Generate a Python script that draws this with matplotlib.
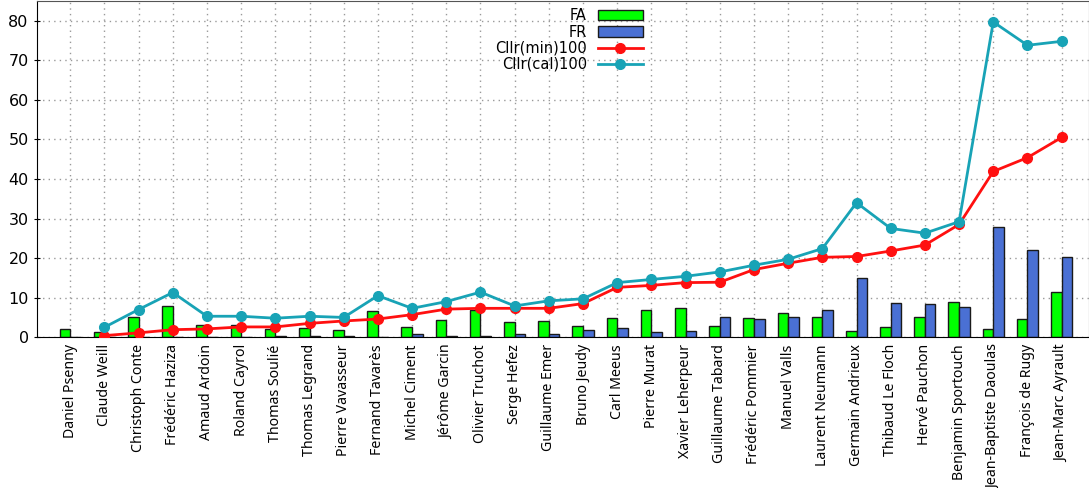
import numpy as np
import matplotlib.pyplot as plt

noms = ['Daniel Psenny', 'Claude Weill', 'Christoph Conte', 'Frédéric Haziza',
        'Amaud Ardoin', 'Roland Cayrol', 'Thomas Soulié', 'Thomas Legrand',
        'Pierre Vavasseur', 'Fernand Tavarès', 'Michel Ciment', 'Jérôme Garcin',
        'Olivier Truchot', 'Serge Hefez', 'Guillaume Emer', 'Bruno Jeudy',
        'Carl Meeus', 'Pierre Murat', 'Xavier Leherpeur', 'Guillaume Tabard',
        'Frédéric Pommier', 'Manuel Valls', 'Laurent Neumann', 'Germain Andrieux',
        'Thibaud Le Floch', 'Hervé Pauchon', 'Benjamin Sportouch',
        'Jean-Baptiste Daoulas', 'François de Rugy', 'Jean-Marc Ayrault']

fa = [2.1, 1.4, 5.1, 7.8, 3.1, 3.2, 2.1, 2.4, 1.9, 6.5,
      2.6, 4.4, 6.9, 3.9, 4.1, 2.9, 4.8, 6.9, 7.5, 2.9,
      4.8, 6.0, 5.0, 1.6, 2.6, 5.0, 9.0, 2.0, 4.5, 11.4]
fr = [0, 0, 0, 0, 0, 0, 0.2, 0.2, 0.4, 0,
      0.9, 0.2, 0.4, 0.9, 0.7, 1.9, 2.4, 1.4, 1.6, 5.0,
      4.6, 5.0, 6.8, 15.0, 8.7, 8.5, 7.7, 27.9, 22.1, 20.4]
# pas de valeur Cllr pour le premier nom
cllr_min = [np.nan, 0.4, 1.1, 1.9, 2.1, 2.6, 2.6, 3.5, 4.1, 4.6,
            5.7, 7.1, 7.3, 7.3, 7.3, 8.5, 12.6, 13.1, 13.8, 13.9,
            17.1, 18.7, 20.2, 20.4, 21.8, 23.3, 28.5, 41.9, 45.4, 50.5]
cllr_cal = [np.nan, 2.5, 7.0, 11.3, 5.3, 5.3, 4.8, 5.3, 5.0, 10.5,
            7.3, 9.0, 11.4, 7.9, 9.2, 9.7, 13.8, 14.6, 15.4, 16.5,
            18.2, 19.7, 22.4, 34.0, 27.5, 26.3, 29.2, 79.7, 73.8, 74.8]

x = np.arange(len(noms))
w = 0.31

fig = plt.figure(figsize=(10.89, 4.88), dpi=100)
ax = fig.add_axes([0.034, 0.309, 0.966, 0.689])

b1 = ax.bar(x - w / 2, fa, w, color='#00ff00', edgecolor='#1a1a1a', linewidth=1, label='FA', zorder=2)
b2 = ax.bar(x + w / 2, fr, w, color='#4a70d4', edgecolor='#1a1a1a', linewidth=1, label='FR', zorder=2)
l1, = ax.plot(x, cllr_min, '-o', color='#ff1010', lw=2, ms=7, label='Cllr(min)100', zorder=3)
l2, = ax.plot(x, cllr_cal, '-o', color='#18a3b6', lw=2, ms=7, label='Cllr(cal)100', zorder=3)

ax.set_xlim(-0.97, 29.8)
ax.set_ylim(0, 85)
ax.set_yticks(range(0, 81, 10))
ax.set_xticks(x)
ax.set_xticklabels(noms, rotation=90, fontsize=10.2, family='Noto Sans')
ax.tick_params(axis='x', length=0, pad=5)
ax.tick_params(axis='y', labelsize=11.5, length=5, direction='inout')
ax.grid(True, color='#999999', linestyle=(0, (1, 3)), linewidth=1, zorder=0)
ax.set_axisbelow(True)
for s in ['top', 'right']:
    ax.spines[s].set_color('#555555')

leg = ax.legend([b1, b2, l1, l2], ['FA', 'FR', 'Cllr(min)100', 'Cllr(cal)100'],
                loc='upper left', bbox_to_anchor=(0.43, 0.995), frameon=False,
                fontsize=10.5, markerfirst=False, handlelength=3.1,
                labelspacing=0.08, borderaxespad=0, handletextpad=0.75)
for t in leg.get_texts():
    t.set_ha('right')
leg._legend_box.align = 'right'

fig.savefig('out.png', dpi=100)
